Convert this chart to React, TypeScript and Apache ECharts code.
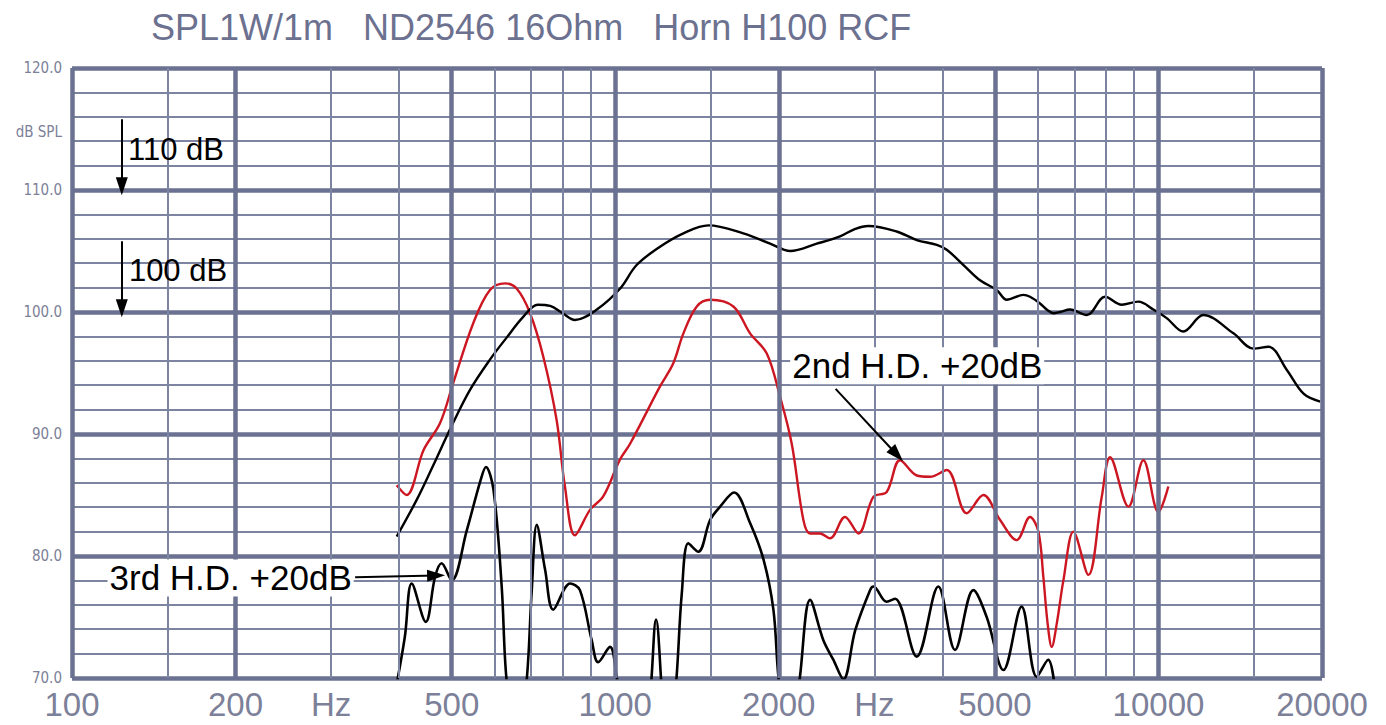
import React, { useEffect, useRef } from "react";
import * as echarts from "echarts";

const TITLE = "SPL1W/1m   ND2546 16Ohm   Horn H100 RCF";

// [frequency Hz, dB SPL]
const splResponse: [number, number][] = [
  [396, 81.6], [431, 84.6], [462, 87.4], [499, 90.6], [540, 93.6], [588, 96.1],
  [631, 97.9], [677, 99.6], [720, 100.6], [759, 100.5], [800, 99.9], [843, 99.35],
  [925, 100.2], [1020, 101.9], [1095, 103.85], [1209, 105.35], [1335, 106.45],
  [1484, 107.1], [1721, 106.45], [1928, 105.6], [2099, 105.0], [2349, 105.6],
  [2593, 106.2], [2760, 106.8], [2924, 107.05], [3297, 106.6], [3589, 105.9],
  [3907, 105.5], [4076, 105.1], [4376, 103.85], [4694, 102.6], [5039, 101.8],
  [5257, 101.0], [5641, 101.4], [5801, 101.25], [6053, 100.7], [6227, 100.2],
  [6406, 99.9], [6590, 100.0], [6875, 100.2], [7380, 99.75], [7975, 101.25],
  [8558, 100.6], [9183, 100.85], [9786, 100.2], [10356, 99.5], [11112, 98.4],
  [12091, 99.75], [13740, 98.25], [14955, 97.0], [15940, 97.15], [17230, 95.25],
  [18495, 93.3], [19840, 92.65],
];

const secondHD: [number, number][] = [
  [396, 85.8], [413, 85.0], [444, 88.7], [476, 90.9], [503, 94.15], [548, 99.1],
  [588, 101.8], [627, 102.35], [659, 101.9], [697, 99.9], [737, 96.35], [780, 91.15],
  [808, 85.7], [843, 81.7], [899, 83.8], [951, 84.9], [1020, 87.9], [1065, 89.2],
  [1209, 93.9], [1279, 95.8], [1335, 98.25], [1413, 100.45], [1495, 101.0],
  [1650, 100.45], [1771, 98.25], [1901, 96.6], [2011, 93.05], [2113, 89.2],
  [2220, 82.95], [2284, 81.85], [2382, 81.85], [2485, 81.45], [2648, 83.2],
  [2803, 81.85], [2987, 84.85], [3160, 85.25], [3344, 87.85], [3589, 86.6],
  [3798, 86.5], [4076, 87.05], [4436, 83.5], [4761, 85.0], [5110, 82.95],
  [5483, 81.3], [5801, 83.2], [6011, 82.0], [6138, 78.3], [6250, 74.5],
  [6361, 72.55], [6500, 74.5], [6683, 78.0], [6972, 82.0], [7430, 78.45],
  [7863, 84.85], [8145, 88.1], [8806, 84.05], [9381, 87.85], [9996, 83.6],
  [10428, 85.7],
];

const thirdHD: [number, number][] = [
  [396, 69.5], [410, 73.4], [422, 77.75], [448, 74.6], [466, 78.3], [479, 79.4],
  [500, 78.0], [533, 82.1], [565, 86.2], [578, 87.3], [597, 85.4], [618, 77.5],
  [631, 69.8], [660, 64.0], [687, 69.8], [702, 77.2], [717, 82.55], [743, 78.85],
  [769, 75.6], [826, 77.75], [861, 77.2], [905, 73.1], [930, 71.3], [978, 72.55],
  [1006, 70.1], [1080, 62.0], [1150, 67.0], [1189, 74.8], [1228, 67.0], [1260, 64.0],
  [1297, 70.1], [1326, 76.95], [1363, 81.05], [1422, 80.35], [1495, 82.95],
  [1560, 84.05], [1655, 85.2], [1771, 82.7], [1875, 79.7], [1955, 75.6],
  [1997, 70.1], [2090, 63.0], [2188, 70.1], [2284, 76.4], [2416, 73.1],
  [2520, 71.5], [2630, 69.9], [2765, 73.9], [2945, 77.2], [2987, 77.5],
  [3160, 76.25], [3275, 76.5], [3589, 71.75], [3933, 77.5], [4221, 72.3],
  [4563, 77.2], [4828, 75.0], [5183, 70.65], [5598, 75.85], [5970, 70.1],
  [6267, 71.5], [6450, 69.0],
];

const majorFreqs = [100, 200, 500, 1000, 2000, 5000, 10000, 20000];
const minorFreqs = [150, 300, 400, 600, 700, 800, 900, 1500, 3000, 4000, 6000, 7000, 8000, 9000, 15000];
const xLabelFreqs = [100, 200, 300, 500, 1000, 2000, 3000, 5000, 10000, 20000];
const xLabelTexts = ["100", "200", "Hz", "500", "1000", "2000", "Hz", "5000", "10000", "20000"];

const Y_MIN = 70;
const Y_MAX = 120;
const Y_MINOR = 2;
const Y_MAJOR = 10;
const X_MIN = 100;
const X_MAX = 20000;

const THICK = "#6b7291";
const THIN = "#7d84a2";
const LABEL = "#7c8098";
const RED = "#cc1722";

export default function App() {
  const ref = useRef<HTMLDivElement>(null);

  useEffect(() => {
    if (!ref.current) return;
    const chart = echarts.init(ref.current, null, { renderer: "svg" });

    const gridLines: any[] = [];
    const labelFor = (f: number) => {
      const i = xLabelFreqs.indexOf(f);
      return i >= 0 ? xLabelTexts[i] : null;
    };
    const mk = (f: number, width: number, color: string) => {
      const t = labelFor(f);
      const item: any = { xAxis: f, lineStyle: { width, color, type: "solid" } };
      if (t) {
        item.label = {
          show: true,
          position: "start",
          formatter: t,
          distance: 10,
          color: LABEL,
          fontSize: 33,
          fontFamily: "Liberation Sans, Arial, sans-serif",
        };
      } else {
        item.label = { show: false };
      }
      return item;
    };
    minorFreqs.forEach((f) => gridLines.push(mk(f, 2, THIN)));
    majorFreqs.forEach((f) => gridLines.push(mk(f, 4.5, THICK)));

    const noteFont = "Liberation Sans, Arial, sans-serif";
    const arrowEnd = (c: [number, number]) => ({ coord: c, symbol: "triangle", symbolSize: [12, 18] });
    const arrowStart = (c: [number, number]) => ({ coord: c, symbol: "none" });

    const option: any = {
      animation: false,
      backgroundColor: "#ffffff",
      title: {
        text: TITLE,
        left: 146,
        top: 4,
        textStyle: {
          fontSize: 36,
          fontWeight: "normal",
          color: "#6c7190",
          fontFamily: noteFont,
        },
      },
      grid: { left: 72, right: 64, top: 68, bottom: 47 },
      xAxis: {
        type: "log",
        logBase: 10,
        min: X_MIN,
        max: X_MAX,
        axisLine: { show: false },
        axisTick: { show: false },
        axisLabel: { show: false },
        splitLine: { show: false },
      },
      yAxis: [
        {
          type: "value",
          min: Y_MIN,
          max: Y_MAX,
          interval: Y_MINOR,
          axisLine: { show: false },
          axisTick: { show: false },
          axisLabel: { show: false },
          splitLine: { show: true, lineStyle: { color: THIN, width: 2 } },
        },
        {
          type: "value",
          min: Y_MIN,
          max: Y_MAX,
          interval: Y_MAJOR,
          position: "left",
          axisLine: { show: false },
          axisTick: { show: false },
          axisLabel: {
            show: true,
            margin: 10,
            formatter: (v: number) => v.toFixed(1),
            color: LABEL,
            fontSize: 15,
            fontFamily: "Liberation Sans Narrow, DejaVu Sans Condensed, Liberation Sans, sans-serif",
          },
          splitLine: { show: true, lineStyle: { color: THICK, width: 4.5 } },
        },
      ],
      graphic: [
        {
          type: "text",
          right: 1386 - 62,
          top: 124,
          style: {
            text: "dB SPL",
            fill: LABEL,
            fontSize: 15,
            fontFamily: "Liberation Sans Narrow, DejaVu Sans Condensed, Liberation Sans, sans-serif",
          },
        },
      ],
      series: [
        {
          name: "grid",
          type: "line",
          z: 1,
          silent: true,
          showSymbol: false,
          data: [[X_MIN, Y_MIN], [X_MAX, Y_MIN]],
          lineStyle: { opacity: 0 },
          markLine: {
            silent: true,
            symbol: ["none", "none"],
            animation: false,
            label: { show: false },
            emphasis: { disabled: true },
            data: gridLines,
          },
        },
        {
          name: "3rd H.D.",
          type: "line",
          z: 3,
          smooth: 0.35,
          showSymbol: false,
          clip: true,
          data: thirdHD,
          lineStyle: { color: "#000", width: 2.6 },
        },
        {
          name: "2nd H.D.",
          type: "line",
          z: 3,
          smooth: 0.35,
          showSymbol: false,
          clip: true,
          data: secondHD,
          lineStyle: { color: RED, width: 2.4 },
        },
        {
          name: "SPL",
          type: "line",
          z: 4,
          smooth: 0.35,
          showSymbol: false,
          clip: true,
          data: splResponse,
          lineStyle: { color: "#000", width: 2.4 },
        },
        {
          name: "notes",
          type: "line",
          z: 5,
          silent: true,
          showSymbol: false,
          data: [[X_MIN, Y_MIN]],
          lineStyle: { opacity: 0 },
          markLine: {
            silent: true,
            animation: false,
            label: { show: false },
            lineStyle: { color: "#000", width: 2, type: "solid" },
            itemStyle: { color: "#000" },
            data: [
              [arrowStart([123.5, 115.8]), arrowEnd([123.5, 110.3])],
              [arrowStart([123.5, 105.8]), arrowEnd([123.5, 100.3])],
              [arrowStart([332, 78.25]), arrowEnd([468, 78.4])],
              [arrowStart([2545, 93.7]), arrowEnd([3300, 88.3])],
            ],
          },
          markPoint: {
            silent: true,
            animation: false,
            symbol: "rect",
            symbolSize: 1,
            itemStyle: { color: "rgba(0,0,0,0)" },
            data: [
              {
                coord: [126.5, 113.3],
                label: { show: true, position: "right", distance: 0, formatter: "110 dB", color: "#000", fontSize: 31, fontFamily: noteFont },
              },
              {
                coord: [127, 103.4],
                label: { show: true, position: "right", distance: 0, formatter: "100 dB", color: "#000", fontSize: 31, fontFamily: noteFont },
              },
              {
                coord: [116, 78.2],
                label: {
                  show: true, position: "right", distance: 0, formatter: "3rd H.D. +20dB", color: "#000",
                  fontSize: 35, fontFamily: noteFont, backgroundColor: "#fff", padding: [1, 2],
                },
              },
              {
                coord: [2095, 95.6],
                label: {
                  show: true, position: "right", distance: 0, formatter: "2nd H.D. +20dB", color: "#000",
                  fontSize: 35, fontFamily: noteFont, backgroundColor: "#fff", padding: [1, 2],
                },
              },
            ],
          },
        },
      ],
    };

    chart.setOption(option);
    return () => chart.dispose();
  }, []);

  return (
    <div
      ref={ref}
      style={{ position: "fixed", left: 0, top: 0, width: 1386, height: 725, background: "#fff" }}
    />
  );
}
